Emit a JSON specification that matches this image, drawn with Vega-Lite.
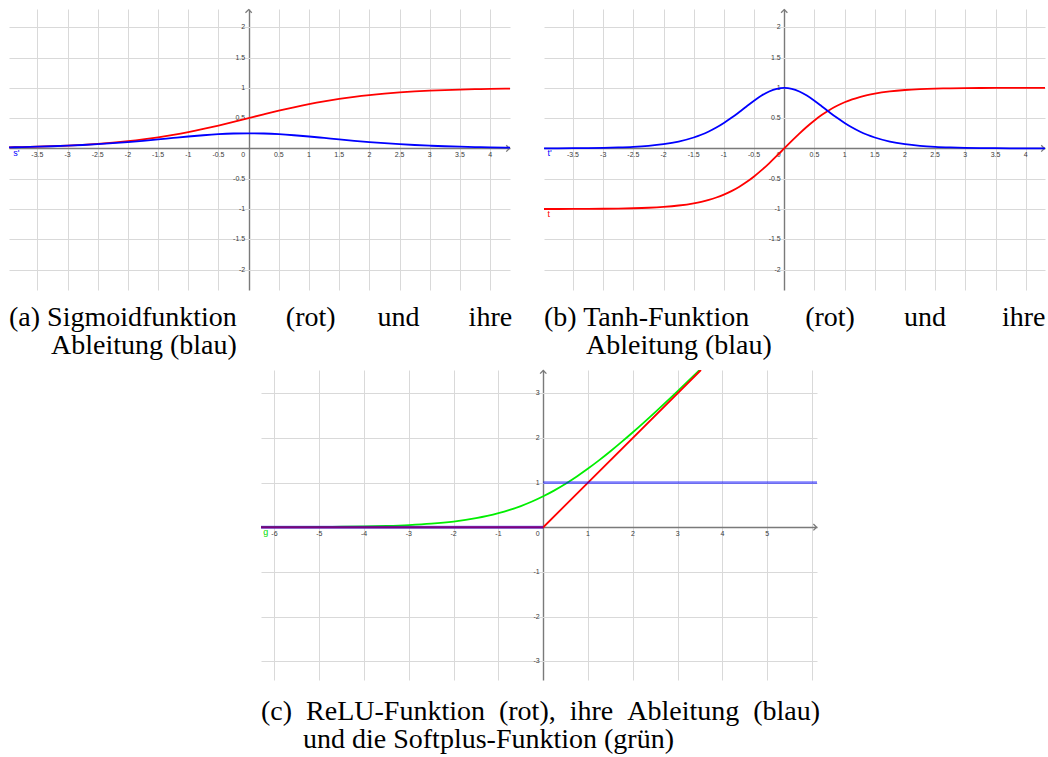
{
"$schema": "https://vega.github.io/schema/vega-lite/v6.json",
"background": "white",
"padding": {"left": 9, "top": 7, "right": 0, "bottom": 0},
"bounds": "full",
"spacing": 7,
"config": {"view": {"stroke": null}},
"datasets": {
"xl_ab": [{"x":-3.5,"y":0,"l":"-3.5"},{"x":-3,"y":0,"l":"-3"},{"x":-2.5,"y":0,"l":"-2.5"},{"x":-2,"y":0,"l":"-2"},{"x":-1.5,"y":0,"l":"-1.5"},{"x":-1,"y":0,"l":"-1"},{"x":-0.5,"y":0,"l":"-0.5"},{"x":0.5,"y":0,"l":"0.5"},{"x":1,"y":0,"l":"1"},{"x":1.5,"y":0,"l":"1.5"},{"x":2,"y":0,"l":"2"},{"x":2.5,"y":0,"l":"2.5"},{"x":3,"y":0,"l":"3"},{"x":3.5,"y":0,"l":"3.5"},{"x":4,"y":0,"l":"4"}],
"yl_ab": [{"x":0,"y":2,"l":"2"},{"x":0,"y":1.5,"l":"1.5"},{"x":0,"y":1,"l":"1"},{"x":0,"y":0.5,"l":"0.5"},{"x":0,"y":-0.5,"l":"-0.5"},{"x":0,"y":-1,"l":"-1"},{"x":0,"y":-1.5,"l":"-1.5"},{"x":0,"y":-2,"l":"-2"}],
"xl_c": [{"x":-6,"y":0,"l":"-6"},{"x":-5,"y":0,"l":"-5"},{"x":-4,"y":0,"l":"-4"},{"x":-3,"y":0,"l":"-3"},{"x":-2,"y":0,"l":"-2"},{"x":-1,"y":0,"l":"-1"},{"x":1,"y":0,"l":"1"},{"x":2,"y":0,"l":"2"},{"x":3,"y":0,"l":"3"},{"x":4,"y":0,"l":"4"},{"x":5,"y":0,"l":"5"}],
"yl_c": [{"x":0,"y":3,"l":"3"},{"x":0,"y":2,"l":"2"},{"x":0,"y":1,"l":"1"},{"x":0,"y":-1,"l":"-1"},{"x":0,"y":-2,"l":"-2"},{"x":0,"y":-3,"l":"-3"}],
"s": [{"x":-3.97,"y":0.0185},{"x":-3.75,"y":0.023},{"x":-3.5,"y":0.0293},{"x":-3.25,"y":0.0373},{"x":-3,"y":0.0474},{"x":-2.75,"y":0.0601},{"x":-2.5,"y":0.0759},{"x":-2.25,"y":0.0953},{"x":-2,"y":0.1192},{"x":-1.75,"y":0.148},{"x":-1.5,"y":0.1824},{"x":-1.25,"y":0.2227},{"x":-1,"y":0.2689},{"x":-0.75,"y":0.3208},{"x":-0.5,"y":0.3775},{"x":-0.25,"y":0.4378},{"x":0,"y":0.5},{"x":0.25,"y":0.5622},{"x":0.5,"y":0.6225},{"x":0.75,"y":0.6792},{"x":1,"y":0.7311},{"x":1.25,"y":0.7773},{"x":1.5,"y":0.8176},{"x":1.75,"y":0.852},{"x":2,"y":0.8808},{"x":2.25,"y":0.9047},{"x":2.5,"y":0.9241},{"x":2.75,"y":0.9399},{"x":3,"y":0.9526},{"x":3.25,"y":0.9627},{"x":3.5,"y":0.9707},{"x":3.75,"y":0.977},{"x":4,"y":0.982},{"x":4.25,"y":0.9859},{"x":4.33,"y":0.987}],
"ds": [{"x":-3.97,"y":0.0182},{"x":-3.75,"y":0.0224},{"x":-3.5,"y":0.0285},{"x":-3.25,"y":0.0359},{"x":-3,"y":0.0452},{"x":-2.75,"y":0.0565},{"x":-2.5,"y":0.0701},{"x":-2.25,"y":0.0863},{"x":-2,"y":0.105},{"x":-1.75,"y":0.1261},{"x":-1.5,"y":0.1491},{"x":-1.25,"y":0.1731},{"x":-1,"y":0.1966},{"x":-0.75,"y":0.2179},{"x":-0.5,"y":0.235},{"x":-0.25,"y":0.2461},{"x":0,"y":0.25},{"x":0.25,"y":0.2461},{"x":0.5,"y":0.235},{"x":0.75,"y":0.2179},{"x":1,"y":0.1966},{"x":1.25,"y":0.1731},{"x":1.5,"y":0.1491},{"x":1.75,"y":0.1261},{"x":2,"y":0.105},{"x":2.25,"y":0.0863},{"x":2.5,"y":0.0701},{"x":2.75,"y":0.0565},{"x":3,"y":0.0452},{"x":3.25,"y":0.0359},{"x":3.5,"y":0.0285},{"x":3.75,"y":0.0224},{"x":4,"y":0.0177},{"x":4.25,"y":0.0139},{"x":4.33,"y":0.0128}],
"t": [{"x":-3.98,"y":-0.9993},{"x":-3.75,"y":-0.9989},{"x":-3.5,"y":-0.9982},{"x":-3.25,"y":-0.997},{"x":-3,"y":-0.9951},{"x":-2.75,"y":-0.9918},{"x":-2.5,"y":-0.9866},{"x":-2.25,"y":-0.978},{"x":-2,"y":-0.964},{"x":-1.75,"y":-0.9414},{"x":-1.5,"y":-0.9051},{"x":-1.375,"y":-0.8798},{"x":-1.25,"y":-0.8483},{"x":-1.125,"y":-0.8093},{"x":-1,"y":-0.7616},{"x":-0.875,"y":-0.7039},{"x":-0.75,"y":-0.6351},{"x":-0.625,"y":-0.5546},{"x":-0.5,"y":-0.4621},{"x":-0.375,"y":-0.3584},{"x":-0.25,"y":-0.2449},{"x":-0.125,"y":-0.1244},{"x":0,"y":0},{"x":0.125,"y":0.1244},{"x":0.25,"y":0.2449},{"x":0.375,"y":0.3584},{"x":0.5,"y":0.4621},{"x":0.625,"y":0.5546},{"x":0.75,"y":0.6351},{"x":0.875,"y":0.7039},{"x":1,"y":0.7616},{"x":1.125,"y":0.8093},{"x":1.25,"y":0.8483},{"x":1.375,"y":0.8798},{"x":1.5,"y":0.9051},{"x":1.75,"y":0.9414},{"x":2,"y":0.964},{"x":2.25,"y":0.978},{"x":2.5,"y":0.9866},{"x":2.75,"y":0.9918},{"x":3,"y":0.9951},{"x":3.25,"y":0.997},{"x":3.5,"y":0.9982},{"x":3.75,"y":0.9989},{"x":4,"y":0.9993},{"x":4.32,"y":0.9996}],
"dt": [{"x":-3.98,"y":0.0014},{"x":-3.75,"y":0.0022},{"x":-3.5,"y":0.0036},{"x":-3.25,"y":0.006},{"x":-3,"y":0.0099},{"x":-2.75,"y":0.0163},{"x":-2.5,"y":0.0266},{"x":-2.25,"y":0.0435},{"x":-2,"y":0.0707},{"x":-1.75,"y":0.1138},{"x":-1.5,"y":0.1807},{"x":-1.375,"y":0.2259},{"x":-1.25,"y":0.2804},{"x":-1.125,"y":0.345},{"x":-1,"y":0.42},{"x":-0.875,"y":0.5045},{"x":-0.75,"y":0.5966},{"x":-0.625,"y":0.6924},{"x":-0.5,"y":0.7864},{"x":-0.375,"y":0.8716},{"x":-0.25,"y":0.94},{"x":-0.125,"y":0.9845},{"x":0,"y":1},{"x":0.125,"y":0.9845},{"x":0.25,"y":0.94},{"x":0.375,"y":0.8716},{"x":0.5,"y":0.7864},{"x":0.625,"y":0.6924},{"x":0.75,"y":0.5966},{"x":0.875,"y":0.5045},{"x":1,"y":0.42},{"x":1.125,"y":0.345},{"x":1.25,"y":0.2804},{"x":1.375,"y":0.2259},{"x":1.5,"y":0.1807},{"x":1.75,"y":0.1138},{"x":2,"y":0.0707},{"x":2.25,"y":0.0435},{"x":2.5,"y":0.0266},{"x":2.75,"y":0.0163},{"x":3,"y":0.0099},{"x":3.25,"y":0.006},{"x":3.5,"y":0.0036},{"x":3.75,"y":0.0022},{"x":4,"y":0.0013},{"x":4.32,"y":0.0007}],
"sp": [{"x":-6.3,"y":0.0018},{"x":-6,"y":0.0025},{"x":-5.5,"y":0.0041},{"x":-5,"y":0.0067},{"x":-4.5,"y":0.011},{"x":-4,"y":0.0182},{"x":-3.5,"y":0.0298},{"x":-3,"y":0.0486},{"x":-2.5,"y":0.0789},{"x":-2,"y":0.1269},{"x":-1.5,"y":0.2014},{"x":-1.25,"y":0.2519},{"x":-1,"y":0.3133},{"x":-0.75,"y":0.3869},{"x":-0.5,"y":0.4741},{"x":-0.25,"y":0.5756},{"x":0,"y":0.6931},{"x":0.25,"y":0.8256},{"x":0.5,"y":0.9741},{"x":0.75,"y":1.1369},{"x":1,"y":1.3133},{"x":1.25,"y":1.5019},{"x":1.5,"y":1.7014},{"x":1.75,"y":1.9102},{"x":2,"y":2.1269},{"x":2.5,"y":2.5789},{"x":3,"y":3.0486},{"x":3.5,"y":3.5298}],
"relu": [{"x":-6.3,"y":0},{"x":0,"y":0},{"x":3.52,"y":3.52}],
"drelu": [{"x":-6.3,"y":0,"g":"a"},{"x":0,"y":0,"g":"a"},{"x":0,"y":1,"g":"b"},{"x":6.11,"y":1,"g":"b"}]
},
"vconcat": [
{
"hconcat": [
{
"width": 501, "height": 281,
"title": {"text": ["(a) Sigmoidfunktion\u00a0\u00a0\u00a0\u00a0\u00a0\u00a0\u00a0(rot)\u00a0\u00a0\u00a0\u00a0\u00a0\u00a0und\u00a0\u00a0\u00a0\u00a0\u00a0\u00a0\u00a0ihre", "\u200b\u00a0\u00a0\u00a0\u00a0\u00a0\u00a0Ableitung (blau)"], "orient": "bottom", "anchor": "start", "frame": "group", "offset": 36, "baseline": "alphabetic", "font": "Liberation Serif", "fontSize": 28, "fontWeight": "normal", "color": "#000000", "lineHeight": 28},
"encoding": {
"x": {"field": "x", "type": "quantitative", "scale": {"domain": [-3.97, 4.33], "nice": false, "zero": false}, "axis": {"values": [-3.5,-3,-2.5,-2,-1.5,-1,-0.5,0,0.5,1,1.5,2,2.5,3,3.5,4], "grid": true, "gridColor": {"condition": {"test": "datum.value === 0", "value": "#7a7a7a"}, "value": "#d9d9d9"}, "gridWidth": {"condition": {"test": "datum.value === 0", "value": 1.4}, "value": 1}, "labels": false, "ticks": false, "domain": false, "title": null}},
"y": {"field": "y", "type": "quantitative", "scale": {"domain": [-2.335, 2.3], "nice": false, "zero": false}, "axis": {"values": [-2,-1.5,-1,-0.5,0,0.5,1,1.5,2], "grid": true, "gridColor": {"condition": {"test": "datum.value === 0", "value": "#7a7a7a"}, "value": "#d9d9d9"}, "gridWidth": {"condition": {"test": "datum.value === 0", "value": 1.4}, "value": 1}, "labels": false, "ticks": false, "domain": false, "title": null}}
},
"layer": [
{"data": {"values": [{"x": 4.32, "y": 0}]}, "mark": {"type": "point", "shape": "M-1,-1L0,0L-1,1", "size": 40, "filled": false, "stroke": "#7a7a7a", "strokeWidth": 1.3, "opacity": 1}, "encoding": {}},
{"data": {"values": [{"x": 0, "y": 2.29}]}, "mark": {"type": "point", "shape": "M-1,1L0,0L1,1", "size": 40, "filled": false, "stroke": "#7a7a7a", "strokeWidth": 1.3, "opacity": 1}, "encoding": {}},
{"data": {"name": "xl_ab"}, "mark": {"type": "text", "font": "Liberation Sans", "fontSize": 7, "color": "#3a3a3a", "align": "center", "baseline": "middle", "dy": 6.5}, "encoding": {"text": {"field": "l"}}},
{"data": {"name": "yl_ab"}, "mark": {"type": "text", "font": "Liberation Sans", "fontSize": 7, "color": "#3a3a3a", "align": "right", "baseline": "middle", "dx": -3.5}, "encoding": {"text": {"field": "l"}}},
{"data": {"values": [{"x": 0, "y": 0, "l": "0"}]}, "mark": {"type": "text", "font": "Liberation Sans", "fontSize": 7, "color": "#3a3a3a", "align": "right", "baseline": "middle", "dx": -3.5, "dy": 6.5}, "encoding": {"text": {"field": "l"}}},
{"data": {"name": "s"}, "mark": {"type": "line", "color": "#ff0000", "strokeWidth": 1.8, "interpolate": "monotone", "clip": true}, "encoding": {}},
{"data": {"name": "ds"}, "mark": {"type": "line", "color": "#0000ff", "strokeWidth": 1.8, "interpolate": "monotone", "clip": true}, "encoding": {}},
{"data": {"values": [{"x": -3.9, "y": 0, "l": "s'"}]}, "mark": {"type": "text", "font": "Liberation Sans", "fontSize": 9, "color": "#0000ff", "align": "left", "baseline": "middle", "dy": 5}, "encoding": {"text": {"field": "l"}}}
]
},
{
"width": 501, "height": 281,
"title": {"text": ["(b) Tanh-Funktion\u00a0\u00a0\u00a0\u00a0\u00a0\u00a0\u00a0\u00a0(rot)\u00a0\u00a0\u00a0\u00a0\u00a0\u00a0\u00a0und\u00a0\u00a0\u00a0\u00a0\u00a0\u00a0\u00a0\u00a0ihre", "\u200b\u00a0\u00a0\u00a0\u00a0\u00a0\u00a0Ableitung (blau)"], "orient": "bottom", "anchor": "start", "frame": "group", "offset": 36, "baseline": "alphabetic", "font": "Liberation Serif", "fontSize": 28, "fontWeight": "normal", "color": "#000000", "lineHeight": 28},
"encoding": {
"x": {"field": "x", "type": "quantitative", "scale": {"domain": [-3.98, 4.32], "nice": false, "zero": false}, "axis": {"values": [-3.5,-3,-2.5,-2,-1.5,-1,-0.5,0,0.5,1,1.5,2,2.5,3,3.5,4], "grid": true, "gridColor": {"condition": {"test": "datum.value === 0", "value": "#7a7a7a"}, "value": "#d9d9d9"}, "gridWidth": {"condition": {"test": "datum.value === 0", "value": 1.4}, "value": 1}, "labels": false, "ticks": false, "domain": false, "title": null}},
"y": {"field": "y", "type": "quantitative", "scale": {"domain": [-2.335, 2.3], "nice": false, "zero": false}, "axis": {"values": [-2,-1.5,-1,-0.5,0,0.5,1,1.5,2], "grid": true, "gridColor": {"condition": {"test": "datum.value === 0", "value": "#7a7a7a"}, "value": "#d9d9d9"}, "gridWidth": {"condition": {"test": "datum.value === 0", "value": 1.4}, "value": 1}, "labels": false, "ticks": false, "domain": false, "title": null}}
},
"layer": [
{"data": {"values": [{"x": 4.31, "y": 0}]}, "mark": {"type": "point", "shape": "M-1,-1L0,0L-1,1", "size": 40, "filled": false, "stroke": "#7a7a7a", "strokeWidth": 1.3, "opacity": 1}, "encoding": {}},
{"data": {"values": [{"x": 0, "y": 2.29}]}, "mark": {"type": "point", "shape": "M-1,1L0,0L1,1", "size": 40, "filled": false, "stroke": "#7a7a7a", "strokeWidth": 1.3, "opacity": 1}, "encoding": {}},
{"data": {"name": "xl_ab"}, "mark": {"type": "text", "font": "Liberation Sans", "fontSize": 7, "color": "#3a3a3a", "align": "center", "baseline": "middle", "dy": 6.5}, "encoding": {"text": {"field": "l"}}},
{"data": {"name": "yl_ab"}, "mark": {"type": "text", "font": "Liberation Sans", "fontSize": 7, "color": "#3a3a3a", "align": "right", "baseline": "middle", "dx": -3.5}, "encoding": {"text": {"field": "l"}}},
{"data": {"values": [{"x": 0, "y": 0, "l": "0"}]}, "mark": {"type": "text", "font": "Liberation Sans", "fontSize": 7, "color": "#3a3a3a", "align": "right", "baseline": "middle", "dx": -3.5, "dy": 6.5}, "encoding": {"text": {"field": "l"}}},
{"data": {"name": "t"}, "mark": {"type": "line", "color": "#ff0000", "strokeWidth": 1.8, "interpolate": "monotone", "clip": true}, "encoding": {}},
{"data": {"name": "dt"}, "mark": {"type": "line", "color": "#0000ff", "strokeWidth": 1.8, "interpolate": "monotone", "clip": true}, "encoding": {}},
{"data": {"values": [{"x": -3.92, "y": 0, "l": "t'"}]}, "mark": {"type": "text", "font": "Liberation Sans", "fontSize": 9, "color": "#0000ff", "align": "left", "baseline": "middle", "dy": 5}, "encoding": {"text": {"field": "l"}}},
{"data": {"values": [{"x": -3.92, "y": -1, "l": "t"}]}, "mark": {"type": "text", "font": "Liberation Sans", "fontSize": 9, "color": "#ff0000", "align": "left", "baseline": "middle", "dy": 5}, "encoding": {"text": {"field": "l"}}}
]
}
],
"spacing": 34,
"bounds": "flush"
},
{
"hconcat": [
{
"width": 218, "height": 10,
"data": {"values": [{"v": 0}]},
"mark": {"type": "rect", "opacity": 0},
"encoding": {}
},
{
"width": 556, "height": 310,
"title": {"text": ["(c)\u00a0\u00a0ReLU-Funktion\u00a0\u00a0(rot),\u00a0\u00a0ihre\u00a0\u00a0Ableitung\u00a0\u00a0(blau)", "\u200b\u00a0\u00a0\u00a0\u00a0\u00a0\u00a0und die Softplus-Funktion (grün)"], "orient": "bottom", "anchor": "start", "frame": "group", "offset": 40, "baseline": "alphabetic", "font": "Liberation Serif", "fontSize": 28, "fontWeight": "normal", "color": "#000000", "lineHeight": 28},
"encoding": {
"x": {"field": "x", "type": "quantitative", "scale": {"domain": [-6.3, 6.11], "nice": false, "zero": false}, "axis": {"values": [-6,-5,-4,-3,-2,-1,0,1,2,3,4,5,6], "grid": true, "gridColor": {"condition": {"test": "datum.value === 0", "value": "#7a7a7a"}, "value": "#d9d9d9"}, "gridWidth": {"condition": {"test": "datum.value === 0", "value": 1.4}, "value": 1}, "labels": false, "ticks": false, "domain": false, "title": null}},
"y": {"field": "y", "type": "quantitative", "scale": {"domain": [-3.42, 3.52], "nice": false, "zero": false}, "axis": {"values": [-3,-2,-1,0,1,2,3], "grid": true, "gridColor": {"condition": {"test": "datum.value === 0", "value": "#7a7a7a"}, "value": "#d9d9d9"}, "gridWidth": {"condition": {"test": "datum.value === 0", "value": 1.4}, "value": 1}, "labels": false, "ticks": false, "domain": false, "title": null}}
},
"layer": [
{"data": {"values": [{"x": 6.1, "y": 0}]}, "mark": {"type": "point", "shape": "M-1,-1L0,0L-1,1", "size": 40, "filled": false, "stroke": "#7a7a7a", "strokeWidth": 1.3, "opacity": 1}, "encoding": {}},
{"data": {"values": [{"x": 0, "y": 3.51}]}, "mark": {"type": "point", "shape": "M-1,1L0,0L1,1", "size": 40, "filled": false, "stroke": "#7a7a7a", "strokeWidth": 1.3, "opacity": 1}, "encoding": {}},
{"data": {"name": "xl_c"}, "mark": {"type": "text", "font": "Liberation Sans", "fontSize": 7, "color": "#3a3a3a", "align": "center", "baseline": "middle", "dy": 6.5}, "encoding": {"text": {"field": "l"}}},
{"data": {"name": "yl_c"}, "mark": {"type": "text", "font": "Liberation Sans", "fontSize": 7, "color": "#3a3a3a", "align": "right", "baseline": "middle", "dx": -3.5}, "encoding": {"text": {"field": "l"}}},
{"data": {"values": [{"x": 0, "y": 0, "l": "0"}]}, "mark": {"type": "text", "font": "Liberation Sans", "fontSize": 7, "color": "#3a3a3a", "align": "right", "baseline": "middle", "dx": -3.5, "dy": 6.5}, "encoding": {"text": {"field": "l"}}},
{"data": {"name": "sp"}, "mark": {"type": "line", "color": "#00ee00", "strokeWidth": 1.8, "interpolate": "monotone", "clip": true}, "encoding": {}},
{"data": {"name": "relu"}, "mark": {"type": "line", "color": "#ff0000", "strokeWidth": 1.8, "clip": true}, "encoding": {}},
{"data": {"name": "drelu"}, "mark": {"type": "line", "color": "#0000ff", "strokeWidth": 2.8, "opacity": 0.5, "clip": true}, "encoding": {"detail": {"field": "g"}}},
{"data": {"values": [{"x": -6.25, "y": 0, "l": "g"}]}, "mark": {"type": "text", "font": "Liberation Sans", "fontSize": 9, "color": "#00dd00", "align": "left", "baseline": "middle", "dy": 5}, "encoding": {"text": {"field": "l"}}}
]
}
],
"spacing": 34,
"bounds": "flush"
}
]
}
